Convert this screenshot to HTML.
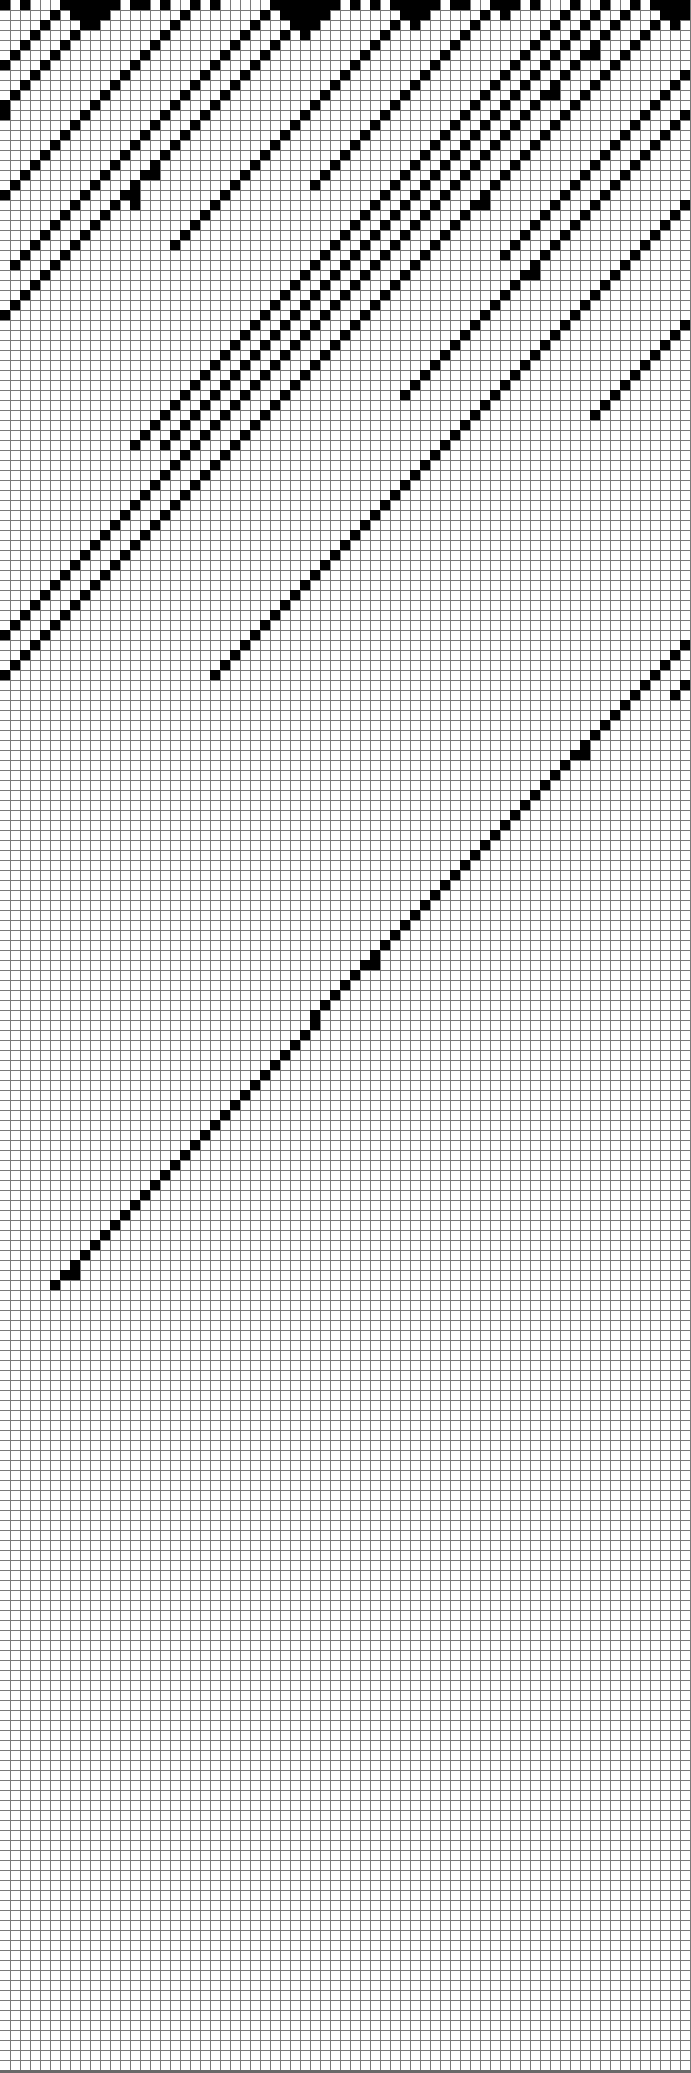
<!DOCTYPE html>
<html>
<head>
<meta charset="utf-8">
<style>
  html, body { margin: 0; padding: 0; background: #fff; }
  body { width: 691px; height: 2073px; overflow: hidden; font-family: "Liberation Sans", sans-serif; }
  svg { display: block; }
</style>
</head>
<body>
<svg id="chart" width="691" height="2073" viewBox="0 0 691 2073" shape-rendering="crispEdges" xmlns="http://www.w3.org/2000/svg">
  <rect x="0" y="0" width="691" height="2073" fill="#ffffff"/>
  <g id="grid"></g>
  <g id="cells"></g>
  <rect x="0" y="2070" width="691" height="3" fill="#6a6a6a"/>
</svg>
<script>
// Grid dimensions
const numCols = [69];
const numRows = [207];
// Filled (black) cells: for each row index, the list of column indices
const filledRows = [
  [0,2,6,7,8,9,10,11,13,14,16,19,21,27,28,29,30,31,32,33,35,37,39,40,41,42,43,45,46,49,50,51,53,57,60,63,65,66,67,68],
  [5,7,8,9,10,18,26,28,29,30,31,32,40,41,42,48,50,56,59,62,66,67,68],
  [4,8,9,17,25,29,30,31,39,41,47,55,58,61,65,67],
  [3,7,16,24,28,30,38,46,54,57,60,64],
  [2,6,15,23,27,37,45,53,56,59,63],
  [1,5,14,22,26,36,44,52,55,58,59,62],
  [0,4,13,21,25,35,43,51,54,57,61],
  [3,12,20,24,34,42,50,53,56,60,68],
  [2,11,19,23,33,41,49,52,55,59,67],
  [1,10,18,22,32,40,48,51,54,55,58,66],
  [0,9,17,21,31,39,47,50,53,57,65],
  [0,8,16,20,30,38,46,49,52,56,64,68],
  [7,15,19,29,37,45,48,51,55,63,67],
  [6,14,18,28,36,44,47,50,54,62,66],
  [5,13,17,27,35,43,46,49,53,61,65],
  [4,12,16,26,34,42,45,48,52,60,64],
  [3,11,15,25,33,41,44,47,51,59,63],
  [2,10,14,15,24,32,40,43,46,50,58,62],
  [1,9,13,23,31,39,42,45,49,57,61],
  [0,8,12,13,22,38,41,44,48,56,60],
  [7,11,13,21,37,40,43,47,48,55,59,68],
  [6,10,20,36,39,42,46,54,58,67],
  [5,9,19,35,38,41,45,53,57,66],
  [4,8,18,34,37,40,44,52,56,65],
  [3,7,17,33,36,39,43,51,55,64],
  [2,6,32,35,38,42,50,54,63],
  [1,5,31,34,37,41,53,62],
  [4,30,33,36,40,52,53,61],
  [3,29,32,35,39,51,60],
  [2,28,31,34,38,50,59],
  [1,27,30,33,37,49,58],
  [0,26,29,32,36,48,57],
  [25,28,31,35,47,56,68],
  [24,27,30,34,46,55,67],
  [23,26,29,33,45,54,66],
  [22,25,28,32,44,53,65],
  [21,24,27,31,43,52,64],
  [20,23,26,30,42,51,63],
  [19,22,25,29,41,50,62],
  [18,21,24,28,40,49,61],
  [17,20,23,27,48,60],
  [16,19,22,26,47,59],
  [15,18,21,25,46],
  [14,17,20,24,45],
  [13,16,19,23,44],
  [18,22,43],
  [17,21,42],
  [16,20,41],
  [15,19,40],
  [14,18,39],
  [13,17,38],
  [12,16,37],
  [11,15,36],
  [10,14,35],
  [9,13,34],
  [8,12,33],
  [7,11,32],
  [6,10,31],
  [5,9,30],
  [4,8,29],
  [3,7,28],
  [2,6,27],
  [1,5,26],
  [0,4,25],
  [3,24,68],
  [2,23,67],
  [1,22,66],
  [0,21,65],
  [64,68],
  [63,67],
  [62],[61],[60],[59],[58],[57,58],[56],[55],[54],[53],
  [52],[51],[50],[49],[48],[47],[46],[45],[44],[43],
  [42],[41],[40],[39],[38],[37],[36,37],[35],[34],[33],
  [32],[31],[31],[30],[29],[28],[27],[26],[25],[24],
  [23],[22],[21],[20],[19],[18],[17],[16],[15],[14],
  [13],[12],[11],[10],[9],[8],[7],[6,7],[5]
];

const NS = "http://www.w3.org/2000/svg";
const cellSize = 10;
function xScale(c) { return c * cellSize; }
function yScale(r) { return r * cellSize; }

// grid lines
const gridG = document.getElementById('grid');
let d = '';
for (let c = 1; c <= numCols[0]; c++) d += 'M' + (xScale(c) + 0.5) + ' 0V2070';
for (let r = 1; r <= numRows[0]; r++) d += 'M0 ' + (yScale(r) + 0.5) + 'H691';
const gridPath = document.createElementNS(NS, 'path');
gridPath.setAttribute('d', d);
gridPath.setAttribute('stroke', '#7a7a7a');
gridPath.setAttribute('stroke-width', '1');
gridPath.setAttribute('fill', 'none');


gridG.appendChild(gridPath);

// filled cells
const cellsG = document.getElementById('cells');
filledRows.forEach(function (cols, r) {
  cols.forEach(function (c) {
    const rect = document.createElementNS(NS, 'rect');
    rect.setAttribute('x', xScale(c));
    rect.setAttribute('y', yScale(r));
    rect.setAttribute('width', cellSize);
    rect.setAttribute('height', cellSize);
    rect.setAttribute('fill', '#000000');
    
    
    cellsG.appendChild(rect);
  });
});
</script>
</body>
</html>
